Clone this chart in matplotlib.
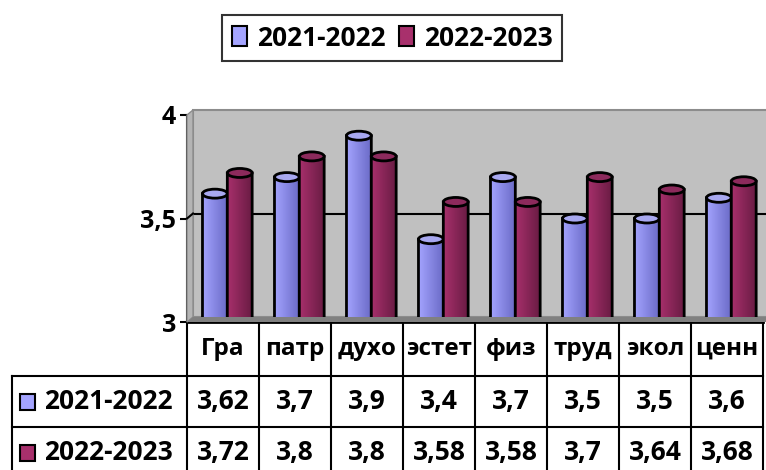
import numpy as np
import matplotlib.pyplot as plt
from matplotlib.patches import Polygon, Ellipse, Rectangle, Patch
from matplotlib.colors import LinearSegmentedColormap
from matplotlib import transforms

plt.rcParams['font.family'] = ['Open Sans', 'DejaVu Sans']
plt.rcParams['font.weight'] = 'bold'

categories = ["Гра", "патр", "духо", "эстет", "физ", "труд", "экол", "ценн"]
series_names = ["2021-2022", "2022-2023"]
values_2122 = [3.62, 3.7, 3.9, 3.4, 3.7, 3.5, 3.5, 3.6]
values_2223 = [3.72, 3.8, 3.8, 3.58, 3.58, 3.7, 3.64, 3.68]
labels_2122 = ["3,62", "3,7", "3,9", "3,4", "3,7", "3,5", "3,5", "3,6"]
labels_2223 = ["3,72", "3,8", "3,8", "3,58", "3,58", "3,7", "3,64", "3,68"]

# light / dark shades for the cylinders
blue_light, blue_dark, blue_top = "#a4a4ff", "#6c6cc8", "#a8a8f0"
red_light, red_dark, red_top = "#a8306c", "#6a1c44", "#8c2a5c"

FS = 19
W, H = 766, 470
fig = plt.figure(figsize=(W / 100, H / 100), dpi=100)
ax = fig.add_axes([187 / W, (H - 322) / H, 576 / W, 207 / H])
ax.set_xlim(-0.5, len(categories) - 0.5)
ax.set_ylim(3, 4)

# depth offset of the back wall (pixels)
back = transforms.offset_copy(ax.transData, fig, x=6, y=5, units='dots')

def px(x, y, tr=ax.transData):
    return fig.transFigure.inverted().transform(tr.transform((x, y)))

# back wall
ax.add_patch(Rectangle((-0.5, 3), 9, 1, transform=back, facecolor="#c0c0c0",
                       edgecolor="#8c8c8c", lw=1.5, clip_on=False, zorder=0))
ax.plot([-0.5, 9], [3.5, 3.5], color="black", lw=1.5, transform=back, clip_on=False, zorder=1)
# side wall
side = [px(-0.5, 3), px(-0.5, 4), px(-0.5, 4, back), px(-0.5, 3, back)]
fig.patches.append(Polygon(side, closed=True, transform=fig.transFigure,
                           facecolor="#b4b4b4", edgecolor="#8c8c8c", lw=1, zorder=0))
a, b = px(-0.5, 3.5), px(-0.5, 3.5, back)
fig.lines.append(plt.Line2D([a[0], b[0]], [a[1], b[1]], color="black", lw=1.5,
                            transform=fig.transFigure, zorder=1))
# floor
floor = [px(-0.5, 3), px(9, 3), px(9, 3, back), px(-0.5, 3, back)]
fig.patches.append(Polygon(floor, closed=True, transform=fig.transFigure,
                           facecolor="#808080", edgecolor="none", zorder=0))

# cylinders
w = 0.345
h = 9 / 207
shift = 0.06
grad = np.linspace(0, 1, 64).reshape(1, -1)
for j, (vals, c1, c2, ct) in enumerate([(values_2122, blue_light, blue_dark, blue_top),
                                         (values_2223, red_light, red_dark, red_top)]):
    cmap = LinearSegmentedColormap.from_list("g%d" % j, [c1, c2])
    for i, v in enumerate(vals):
        x = i + shift + (j - 0.5) * w
        t = np.linspace(np.pi, 2 * np.pi, 30)
        pts = [(x - w / 2, v)] + [(x + w / 2 * np.cos(a), 3 + h / 2 * np.sin(a)) for a in t] + [(x + w / 2, v)]
        z = 3 + i * 2 + j
        body = Polygon(pts, closed=True, facecolor="none", edgecolor="black", lw=2, zorder=z)
        ax.add_patch(body)
        im = ax.imshow(grad, cmap=cmap, extent=[x - w / 2, x + w / 2, 3 - h, v],
                       aspect='auto', zorder=z - 0.5)
        im.set_clip_path(body)
        ax.add_patch(Ellipse((x, v), w, h, facecolor=ct, edgecolor="black", lw=2, zorder=z + 0.1))

ax.set_xlim(-0.5, len(categories) - 0.5)
ax.set_ylim(3, 4)
for s in ["top", "right", "bottom"]:
    ax.spines[s].set_visible(False)
ax.spines["left"].set_linewidth(1.5)
ax.spines["left"].set_zorder(50)
ax.set_xticks([])
ax.set_yticks([3, 3.5, 4])
ax.set_yticklabels(["3", "3,5", "4"], fontsize=18, fontweight="bold")
ax.tick_params(axis="y", length=5, width=1.5, pad=3)
ax.patch.set_visible(False)

# data table
blend = transforms.blended_transform_factory(ax.transData, fig.transFigure)
y_top = (H - 322) / H
y_h = (H - 376) / H
y_r1 = (H - 427) / H
y_r2 = (H - 478) / H
n = len(categories)
for k in range(n + 1):
    ax.plot([k - 0.5, k - 0.5], [y_top, y_r2], color="black", lw=1.5, transform=blend, clip_on=False)
ax.plot([-0.5, n - 0.5], [y_top, y_top], color="black", lw=2, transform=blend, clip_on=False, zorder=60)
fig.lines.append(plt.Line2D([12 / W, 12 / W], [y_h, y_r2], color="black", lw=1.5, transform=fig.transFigure))
for yy in [y_h, y_r1]:
    ax.plot([-0.5, n - 0.5], [yy, yy], color="black", lw=1.5, transform=blend, clip_on=False)
    fig.lines.append(plt.Line2D([12 / W, px(-0.5, 3)[0]], [yy, yy], color="black", lw=1.5,
                                transform=fig.transFigure))

row1_y = (y_h + y_r1) / 2
row2_y = (y_r1 + y_r2) / 2
for i, cat in enumerate(categories):
    ax.text(i, (y_top + y_h) / 2, cat, transform=blend, ha="center", va="center",
            fontsize=17.5, fontweight="bold", clip_on=False)
    ax.text(i, row1_y, labels_2122[i], transform=blend, ha="center", va="center",
            fontsize=FS, fontweight="bold", clip_on=False)
    ax.text(i, row2_y, labels_2223[i], transform=blend, ha="center", va="center",
            fontsize=FS, fontweight="bold", clip_on=False)

for yy, name, col in [(row1_y, series_names[0], blue_light),
                      (row2_y, series_names[1], red_light)]:
    fig.patches.append(Rectangle((20 / W, yy - 8 / H), 15 / W, 16 / H, transform=fig.transFigure,
                                 facecolor=col, edgecolor="black", lw=1.5))
    fig.text(44 / W, yy, name, ha="left", va="center", fontsize=FS, fontweight="bold")

# legend
handles = [Patch(facecolor=blue_light, edgecolor="black", lw=1.5),
           Patch(facecolor=red_light, edgecolor="black", lw=1.5)]
leg = fig.legend(handles, series_names, loc="center", bbox_to_anchor=(392 / W, 1 - 38 / H),
                 ncol=2, fontsize=FS, frameon=True, fancybox=False, edgecolor="black",
                 handlelength=0.6, handleheight=0.8, handletextpad=0.35, columnspacing=0.5,
                 borderpad=0.35)
leg.get_frame().set_linewidth(1.5)

fig.savefig("out.png", dpi=100)
